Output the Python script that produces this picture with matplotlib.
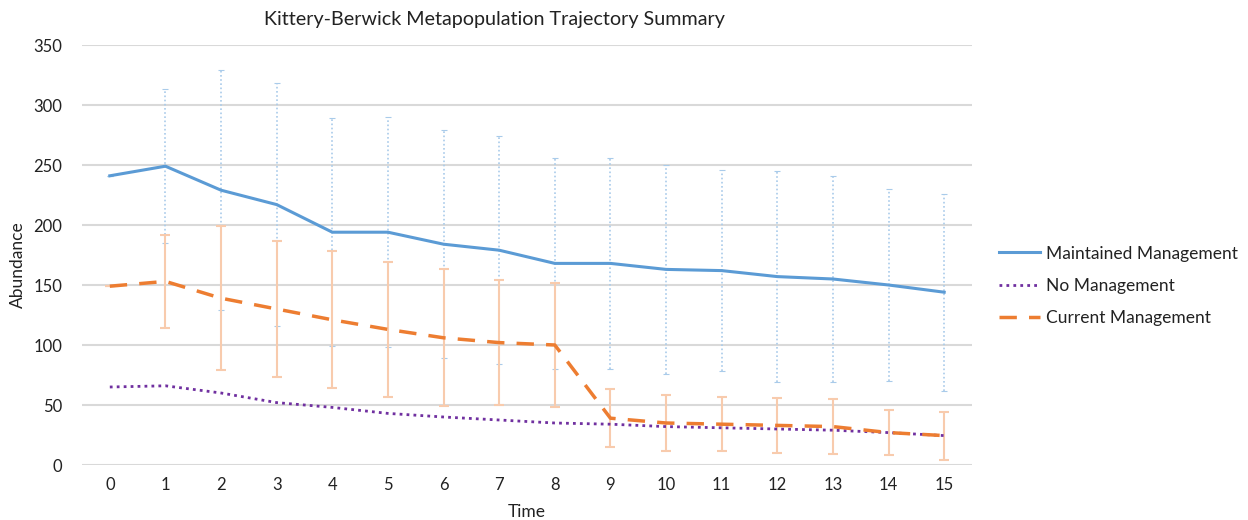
import matplotlib
matplotlib.use("Agg")
import matplotlib.pyplot as plt
import numpy as np

plt.rcParams['font.family'] = ['Lato', 'DejaVu Sans']

time = list(range(16))
maintained = [241, 249, 229, 217, 194, 194, 184, 179, 168, 168, 163, 162, 157, 155, 150, 144]
maintained_err = [0, 64, 100, 101, 95, 96, 95, 95, 88, 88, 87, 84, 88, 86, 80, 82]
no_mgmt = [65, 66, 60, 52, 48, 43, 40, 37.5, 35, 34, 32, 31, 30, 29, 27, 24.5]
current = [149, 153, 139, 130, 121, 113, 106, 102, 100, 39, 35, 34, 33, 32, 27, 24.5]
current_err = [0, 39, 60, 57, 57, 56, 57, 52, 52, 24, 23, 22.5, 23, 23, 19, 20]
yticks = [0, 50, 100, 150, 200, 250, 300, 350]

fig = plt.figure(figsize=(12.48, 5.2), dpi=100)
ax = fig.add_axes([82/1248, 55/520, 890/1248, 420/520])

blue = '#5B9BD5'
orange = '#ED7D31'
purple = '#7030A0'

x = np.array(time)
eb1 = ax.errorbar(x, maintained, yerr=maintained_err, fmt='none', ecolor='#A9CBEA',
                  elinewidth=1.2, capsize=2.5, capthick=0.8, zorder=2)
for lc in eb1[2]:
    lc.set_linestyle((0, (1, 1.5)))
eb2 = ax.errorbar(x, current, yerr=current_err, fmt='none', ecolor='#F8CBAD',
                  elinewidth=1.5, capsize=3.8, capthick=1.5, zorder=2.5)

ax.plot(x, maintained, color=blue, lw=2.2, label='Maintained Management', zorder=3)
ax.plot(x, no_mgmt, color=purple, lw=2, linestyle=(0, (1, 1.5)), label='No Management', zorder=3)
ax.plot(x, current, color=orange, lw=2.5, linestyle=(0, (5, 3.5)), label='Current Management', zorder=3.5)

ax.set_xlim(-0.5, 15.5)
ax.set_ylim(0, 350)
ax.set_yticks(yticks)
ax.set_xticks(time)
ax.grid(axis='y', color='#D9D9D9', lw=1.5)
ax.set_axisbelow(True)
for s in ax.spines.values():
    s.set_visible(False)
ax.tick_params(length=0, labelsize=12, labelcolor='#222222')
ax.tick_params(axis='x', pad=9)
ax.tick_params(axis='y', pad=14)

fig.text(494/1248, 1 - 20/520, 'Kittery-Berwick Metapopulation Trajectory Summary',
         ha='center', va='center', fontsize=14.2, color='#222222')
fig.text(18/1248, 1 - 265/520, 'Abundance', rotation=90, ha='center', va='center',
         fontsize=12.5, color='#222222')
fig.text(527/1248, 1 - 512/520, 'Time', ha='center', va='center', fontsize=12.5, color='#222222')

leg = ax.legend(loc='center left', bbox_to_anchor=(983/1248, 1 - 286/520),
                bbox_transform=fig.transFigure, frameon=False, fontsize=12.5,
                handlelength=2.4, handletextpad=0.3, labelspacing=0.95)
for t in leg.get_texts():
    t.set_color('#222222')

fig.savefig('out.png', dpi=100)
